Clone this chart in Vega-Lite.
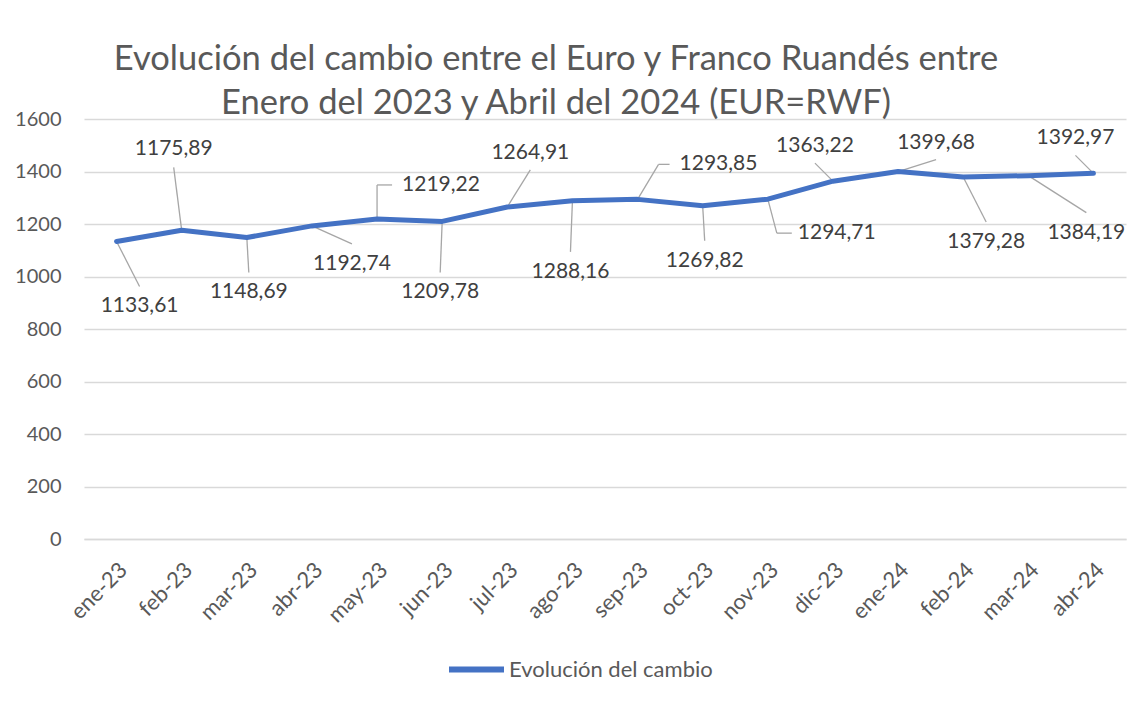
{
  "$schema": "https://vega.github.io/schema/vega-lite/v6.json",
  "width": 1042,
  "height": 420,
  "autosize": {"type": "none"},
  "padding": {"left": 84, "top": 119, "right": 6, "bottom": 162},
  "background": "white",
  "title": {
    "text": ["Evolución del cambio entre el Euro y Franco Ruandés entre", "Enero del 2023 y Abril del 2024 (EUR=RWF)"],
    "font": "Lato",
    "fontSize": 34.5,
    "fontWeight": "normal",
    "color": "#595959",
    "anchor": "middle",
    "dx": -49,
    "offset": -12,
    "lineHeight": 44
  },
  "data": {
    "values": [
      {"mes": "ene-23", "valor": 1133.61, "pos": "se"},
      {"mes": "feb-23", "valor": 1175.89, "pos": "n"},
      {"mes": "mar-23", "valor": 1148.69, "pos": "s"},
      {"mes": "abr-23", "valor": 1192.74, "pos": "se2"},
      {"mes": "may-23", "valor": 1219.22, "pos": "ev"},
      {"mes": "jun-23", "valor": 1209.78, "pos": "s2"},
      {"mes": "jul-23", "valor": 1264.91, "pos": "ne"},
      {"mes": "ago-23", "valor": 1288.16, "pos": "s2"},
      {"mes": "sep-23", "valor": 1293.85, "pos": "ed"},
      {"mes": "oct-23", "valor": 1269.82, "pos": "s"},
      {"mes": "nov-23", "valor": 1294.71, "pos": "es"},
      {"mes": "dic-23", "valor": 1363.22, "pos": "nw"},
      {"mes": "ene-24", "valor": 1399.68, "pos": "ne2"},
      {"mes": "feb-24", "valor": 1379.28, "pos": "se"},
      {"mes": "mar-24", "valor": 1384.19, "pos": "se3"},
      {"mes": "abr-24", "valor": 1392.97, "pos": "nw"}
    ]
  },
  "encoding": {
    "x": {
      "field": "mes",
      "type": "ordinal",
      "sort": ["ene-23", "feb-23", "mar-23", "abr-23", "may-23", "jun-23", "jul-23", "ago-23", "sep-23", "oct-23", "nov-23", "dic-23", "ene-24", "feb-24", "mar-24", "abr-24"],
      "axis": {
        "title": null,
        "labelAngle": -45,
        "labelFontSize": 22,
        "labelFont": "Lato",
        "labelColor": "#595959",
        "ticks": false,
        "domainColor": "#D9D9D9",
        "domainWidth": 1.3,
        "labelPadding": 20,
        "grid": false
      }
    },
    "y": {
      "field": "valor",
      "type": "quantitative",
      "scale": {"domain": [0, 1600], "nice": false},
      "axis": {
        "title": null,
        "values": [0, 200, 400, 600, 800, 1000, 1200, 1400, 1600],
        "format": "d",
        "labelFontSize": 20,
        "labelFont": "Lato",
        "labelColor": "#595959",
        "labelPadding": 23,
        "ticks": false,
        "domain": false,
        "grid": true,
        "gridColor": "#D9D9D9",
        "gridWidth": 1.3
      }
    }
  },
  "layer": [
    {"transform": [{"filter": "datum.pos === 's'"}], "mark": {"type": "rule", "x2Offset": 2, "y2Offset": 35}, "encoding": {"x2": {"field": "mes"}, "y2": {"field": "valor"}}},
    {"transform": [{"filter": "datum.pos === 's2'"}], "mark": {"type": "rule", "x2Offset": -2, "y2Offset": 51}, "encoding": {"x2": {"field": "mes"}, "y2": {"field": "valor"}}},
    {"transform": [{"filter": "datum.pos === 'se'"}], "mark": {"type": "rule", "x2Offset": 23, "y2Offset": 45}, "encoding": {"x2": {"field": "mes"}, "y2": {"field": "valor"}}},
    {"transform": [{"filter": "datum.pos === 'se2'"}], "mark": {"type": "rule", "x2Offset": 40, "y2Offset": 18}, "encoding": {"x2": {"field": "mes"}, "y2": {"field": "valor"}}},
    {"transform": [{"filter": "datum.pos === 'se3'"}], "mark": {"type": "rule", "x2Offset": 58, "y2Offset": 37}, "encoding": {"x2": {"field": "mes"}, "y2": {"field": "valor"}}},
    {"transform": [{"filter": "datum.pos === 'n'"}], "mark": {"type": "rule", "x2Offset": -8, "y2Offset": -63}, "encoding": {"x2": {"field": "mes"}, "y2": {"field": "valor"}}},
    {"transform": [{"filter": "datum.pos === 'ne'"}], "mark": {"type": "rule", "x2Offset": 23, "y2Offset": -37}, "encoding": {"x2": {"field": "mes"}, "y2": {"field": "valor"}}},
    {"transform": [{"filter": "datum.pos === 'ne2'"}], "mark": {"type": "rule", "x2Offset": 38, "y2Offset": -12}, "encoding": {"x2": {"field": "mes"}, "y2": {"field": "valor"}}},
    {"transform": [{"filter": "datum.pos === 'nw'"}], "mark": {"type": "rule", "x2Offset": -18, "y2Offset": -18}, "encoding": {"x2": {"field": "mes"}, "y2": {"field": "valor"}}},
    {"transform": [{"filter": "datum.pos === 'ev'"}], "mark": {"type": "rule", "x2Offset": 0, "y2Offset": -34}, "encoding": {"x2": {"field": "mes"}, "y2": {"field": "valor"}}},
    {"transform": [{"filter": "datum.pos === 'ev'"}], "mark": {"type": "rule", "yOffset": -34, "x2Offset": 15, "y2Offset": -34}, "encoding": {"x2": {"field": "mes"}, "y2": {"field": "valor"}}},
    {"transform": [{"filter": "datum.pos === 'ed'"}], "mark": {"type": "rule", "x2Offset": 21, "y2Offset": -35}, "encoding": {"x2": {"field": "mes"}, "y2": {"field": "valor"}}},
    {"transform": [{"filter": "datum.pos === 'ed'"}], "mark": {"type": "rule", "xOffset": 21, "yOffset": -35, "x2Offset": 32, "y2Offset": -35}, "encoding": {"x2": {"field": "mes"}, "y2": {"field": "valor"}}},
    {"transform": [{"filter": "datum.pos === 'es'"}], "mark": {"type": "rule", "x2Offset": 9, "y2Offset": 34}, "encoding": {"x2": {"field": "mes"}, "y2": {"field": "valor"}}},
    {"transform": [{"filter": "datum.pos === 'es'"}], "mark": {"type": "rule", "xOffset": 9, "yOffset": 34, "x2Offset": 24, "y2Offset": 34}, "encoding": {"x2": {"field": "mes"}, "y2": {"field": "valor"}}},
    {
      "mark": {"type": "line", "strokeWidth": 5, "strokeCap": "round", "strokeJoin": "round"},
      "encoding": {
        "color": {
          "datum": "Evolución del cambio",
          "scale": {"range": ["#4472C4"]},
          "legend": {
            "title": null,
            "orient": "none",
            "legendX": 362,
            "legendY": 520,
            "symbolType": "stroke",
            "symbolSize": 3025,
            "symbolStrokeWidth": 6,
            "labelFont": "Lato",
            "labelFontSize": 22,
            "labelColor": "#595959",
            "labelOffset": 2,
            "labelLimit": 500
          }
        }
      }
    },
    {"transform": [{"filter": "datum.pos === 's'"}], "mark": {"type": "text", "dx": 2, "dy": 55}, "encoding": {"text": {"field": "valor", "type": "quantitative", "format": ".2f"}}},
    {"transform": [{"filter": "datum.pos === 's2'"}], "mark": {"type": "text", "dx": -2, "dy": 71}, "encoding": {"text": {"field": "valor", "type": "quantitative", "format": ".2f"}}},
    {"transform": [{"filter": "datum.pos === 'se'"}], "mark": {"type": "text", "dx": 23, "dy": 65}, "encoding": {"text": {"field": "valor", "type": "quantitative", "format": ".2f"}}},
    {"transform": [{"filter": "datum.pos === 'se2'"}], "mark": {"type": "text", "dx": 40, "dy": 38}, "encoding": {"text": {"field": "valor", "type": "quantitative", "format": ".2f"}}},
    {"transform": [{"filter": "datum.pos === 'se3'"}], "mark": {"type": "text", "dx": 58, "dy": 57}, "encoding": {"text": {"field": "valor", "type": "quantitative", "format": ".2f"}}},
    {"transform": [{"filter": "datum.pos === 'n'"}], "mark": {"type": "text", "dx": -8, "dy": -81}, "encoding": {"text": {"field": "valor", "type": "quantitative", "format": ".2f"}}},
    {"transform": [{"filter": "datum.pos === 'ne'"}], "mark": {"type": "text", "dx": 23, "dy": -54}, "encoding": {"text": {"field": "valor", "type": "quantitative", "format": ".2f"}}},
    {"transform": [{"filter": "datum.pos === 'ne2'"}], "mark": {"type": "text", "dx": 38, "dy": -29}, "encoding": {"text": {"field": "valor", "type": "quantitative", "format": ".2f"}}},
    {"transform": [{"filter": "datum.pos === 'nw'"}], "mark": {"type": "text", "dx": -18, "dy": -35}, "encoding": {"text": {"field": "valor", "type": "quantitative", "format": ".2f"}}},
    {"transform": [{"filter": "datum.pos === 'ev'"}], "mark": {"type": "text", "align": "left", "dx": 25, "dy": -34}, "encoding": {"text": {"field": "valor", "type": "quantitative", "format": ".2f"}}},
    {"transform": [{"filter": "datum.pos === 'ed'"}], "mark": {"type": "text", "align": "left", "dx": 42, "dy": -35}, "encoding": {"text": {"field": "valor", "type": "quantitative", "format": ".2f"}}},
    {"transform": [{"filter": "datum.pos === 'es'"}], "mark": {"type": "text", "align": "left", "dx": 30, "dy": 34}, "encoding": {"text": {"field": "valor", "type": "quantitative", "format": ".2f"}}}
  ],
  "config": {
    "view": {"stroke": null},
    "locale": {"number": {"decimal": ",", "thousands": ".", "grouping": [3], "currency": ["", " €"]}},
    "text": {"font": "Lato", "fontSize": 21, "color": "#404040", "baseline": "middle", "align": "center"},
    "rule": {"color": "#A6A6A6", "strokeWidth": 1.3}
  }
}
